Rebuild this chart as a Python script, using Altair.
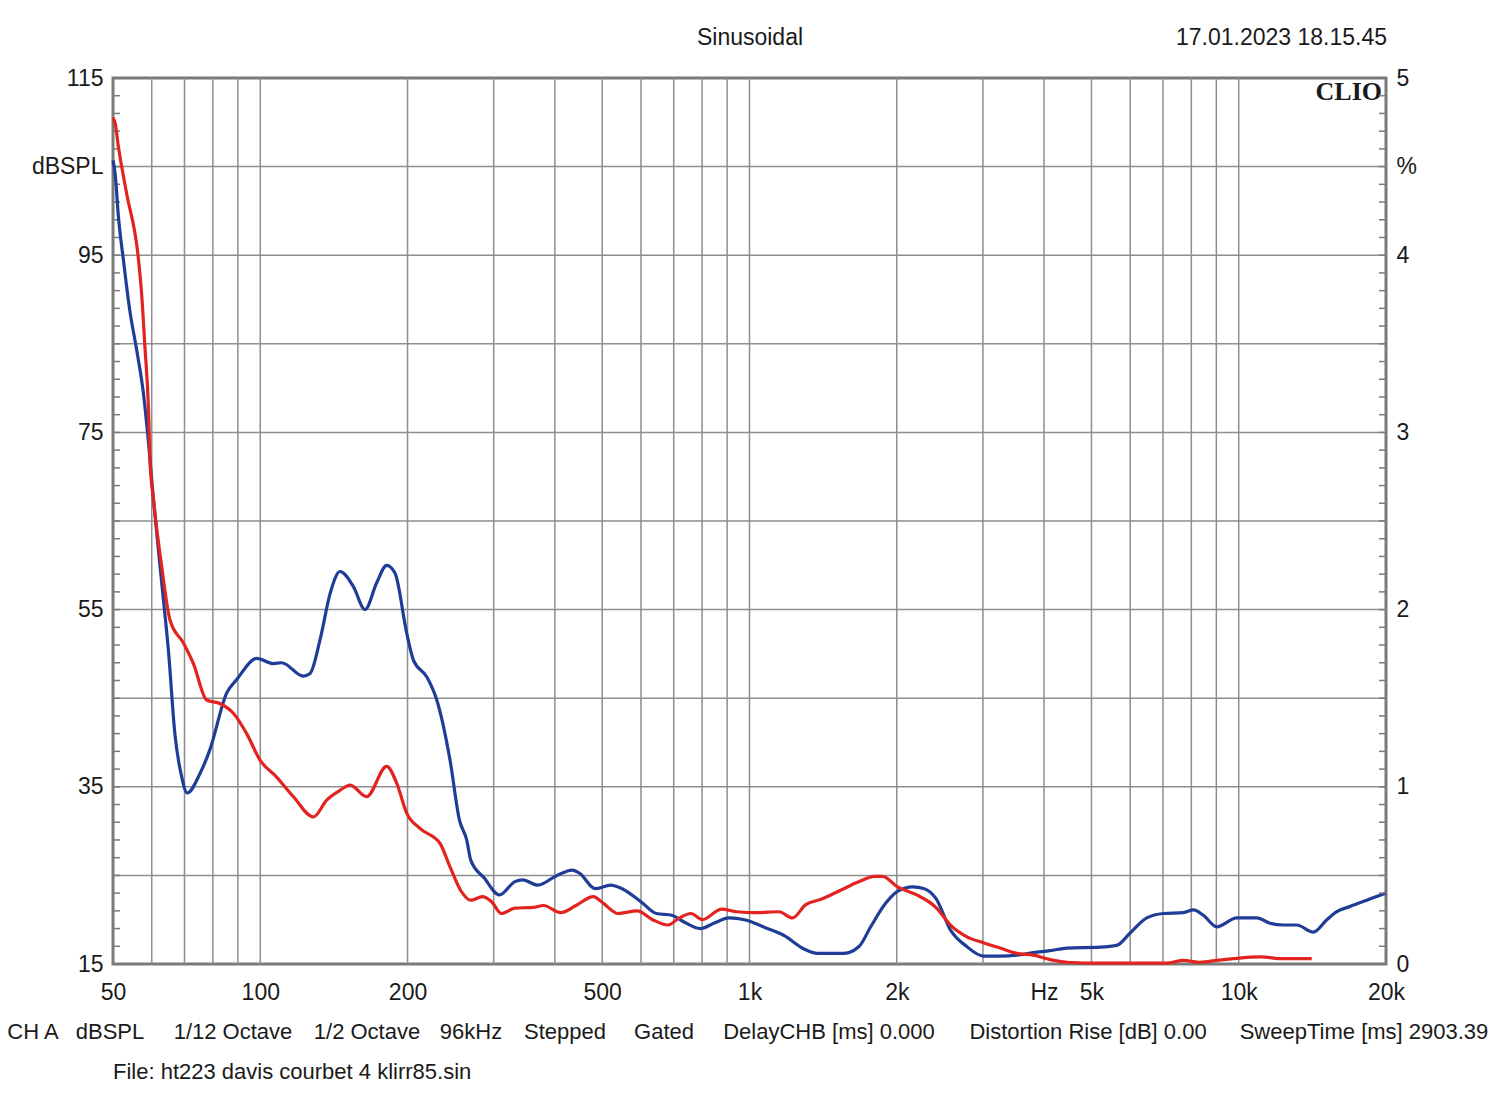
import altair as alt
import pandas as pd

# ---- data ----
blue_freq = [50, 50.5, 51.3, 52.5, 54.1, 55.9, 57.7, 59.1, 60.5, 63.4, 64.9, 66.9, 69.1, 70.9, 75.3, 78.9,
             85.4, 89.5, 98.4, 106.3, 110.6, 122.4, 126.4, 132.5, 138.9, 145.5, 155, 163.7, 172.9, 181.3,
             188.6, 199.3, 205.6, 219, 229.5, 244.3, 255.2, 264.2, 269.4, 287, 308.3, 331.4, 343.6, 369.3,
             404, 434.3, 450.3, 483.7, 520, 549, 600.6, 645.5, 693.6, 732.1, 793.8, 845.4, 908.7, 976.8,
             1088, 1169, 1303, 1375, 1560, 1676, 1769, 1901, 2007, 2157, 2277, 2404, 2584, 2776, 3005,
             3252, 3519, 3804, 4115, 4451, 5207, 5632, 5998, 6487, 7015, 7706, 8077, 8465, 9017, 9910,
             10890, 11590, 12340, 13140, 14210, 15140, 15860, 16890, 18270, 19760, 20000]
blue_db = [105.7, 104.2, 99.3, 94.5, 88.8, 84.3, 79.4, 73.8, 67.4, 56.1, 50.4, 41.0, 36.1, 34.3, 36.5, 39.2,
           45.6, 47.1, 49.5, 48.9, 49.0, 47.5, 47.8, 51.6, 56.8, 59.3, 57.6, 55.0, 58.0, 60.0,
           59.1, 52.3, 49.3, 47.4, 44.8, 38.0, 31.3, 29.0, 26.7, 24.7, 22.8, 24.3, 24.5, 23.9,
           25.0, 25.6, 25.2, 23.5, 23.9, 23.5, 22.0, 20.7, 20.5, 19.8, 19.0, 19.6, 20.2, 20.0,
           19.0, 18.3, 16.6, 16.2, 16.2, 17.0, 19.2, 21.9, 23.2, 23.7, 23.5, 22.4, 18.7, 17.0, 15.9,
           15.9, 16.0, 16.3, 16.5, 16.8, 16.9, 17.1, 18.5, 20.2, 20.7, 20.8, 21.1, 20.5, 19.2, 20.2,
           20.2, 19.6, 19.4, 19.4, 18.6, 20.0, 20.9, 21.5, 22.2, 22.9, 23.0]

red_freq = [50, 50.5, 51.3, 53.3, 56.3, 57.2, 58.1, 59.1, 59.5, 60.5, 62.9, 65.4, 69.7, 73, 77.7, 82.7,
            88.1, 93.8, 99.9, 108, 116.8, 128.4, 136.7, 145.5, 152.6, 165, 181.3, 190.1, 199.3, 212,
            233.1, 244.1, 257.5, 269.4, 284.4, 297.4, 311, 331.4, 362.5, 379.3, 411.4, 441.9, 479.3,
            501.4, 538.8, 589.9, 633.8, 681.2, 718.8, 758.9, 800.9, 876.8, 942.3, 1031, 1149, 1224,
            1303, 1401, 1532, 1676, 1803, 1869, 2007, 2197, 2404, 2584, 2776, 3005, 3252, 3519, 3804,
            4115, 4451, 5207, 7128, 7706, 8335, 9017, 9750, 11060, 12340, 14100]
red_db = [110.5, 109.9, 107.2, 102.0, 94.8, 90.7, 84.7, 77.5, 71.9, 67.4, 59.8, 53.8, 51.2, 48.9, 44.8, 44.4,
          43.3, 41.0, 38.0, 36.1, 33.9, 31.6, 33.5, 34.6, 35.2, 33.9, 37.3, 35.4, 32.0, 30.3,
          28.6, 26.0, 23.2, 22.2, 22.6, 22.0, 20.7, 21.3, 21.4, 21.6, 20.8, 21.6, 22.6,
          21.9, 20.7, 21.0, 20.0, 19.4, 20.2, 20.7, 20.0, 21.2, 20.9, 20.8, 20.9, 20.2,
          21.7, 22.3, 23.3, 24.3, 24.9, 24.9, 23.7, 22.8, 21.4, 19.3, 18.1, 17.4, 16.8, 16.2, 16.0,
          15.5, 15.2, 15.1, 15.1, 15.4, 15.2, 15.4, 15.6, 15.8, 15.6, 15.6]

grid_freqs = [60, 70, 80, 90, 100, 200, 300, 400, 500, 600, 700, 800, 900, 1000,
              2000, 3000, 4000, 5000, 6000, 7000, 8000, 9000, 10000]
grid_db = [25, 35, 45, 55, 65, 75, 85, 95, 105]
x_label_freqs = [50, 100, 200, 500, 1000, 2000, 4000, 5000, 10000, 20000]
left_label_db = [15, 35, 55, 75, 95, 105, 115]
right_label_pct = [0, 1, 2, 3, 4, 4.5, 5]
minor_db = [15 + 2 * i for i in range(51)]
minor_pct = [round(0.1 * i, 1) for i in range(51)]

bottom_info = ["CH A", "dBSPL", "1/12 Octave", "1/2 Octave", "96kHz", "Stepped", "Gated",
               "DelayCHB [ms] 0.000", "Distortion Rise [dB] 0.00", "SweepTime [ms] 2903.39"]

# ---- layout / style ----
W, H = 1273, 886
FONT = "Liberation Sans"
TXT = "#1a1a1a"
GRID = "#8e8e8e"
BLUE = "#1f3d97"
RED = "#e2231f"

xs = alt.Scale(type="log", domain=[50, 20000], nice=False)
ys = alt.Scale(domain=[15, 115], nice=False, zero=False)

X_AX = alt.Axis(
    values=x_label_freqs,
    labelExpr="datum.value >= 1000 ? (datum.value == 4000 ? 'Hz' : datum.value / 1000 + 'k') : datum.value",
    grid=False, ticks=False, domain=False, labelPadding=17, labelFlush=False,
    labelOverlap=False, title=None)
Y_AX = alt.Axis(
    values=left_label_db, labelExpr="datum.value == 105 ? 'dBSPL' : datum.value",
    grid=False, ticks=False, domain=False, labelPadding=10, labelFlush=False,
    labelOverlap=False, labelBaseline="middle", title=None)

curves = pd.concat([
    pd.DataFrame({"f": blue_freq, "db": blue_db, "s": "blue"}),
    pd.DataFrame({"f": red_freq, "db": red_db, "s": "red"}),
])

vgrid = alt.Chart(pd.DataFrame({"f": grid_freqs})).mark_rule(color=GRID, strokeWidth=1.5).encode(
    x=alt.X("f:Q", scale=xs, axis=X_AX))

hgrid = alt.Chart(pd.DataFrame({"db": grid_db})).mark_rule(color=GRID, strokeWidth=1.5).encode(
    y=alt.Y("db:Q", scale=ys, axis=Y_AX))

minor_left = alt.Chart(pd.DataFrame({"db": minor_db})).mark_rule(color="#7a7a7a", strokeWidth=1.5).encode(
    y=alt.Y("db:Q", scale=ys, axis=Y_AX), x=alt.value(0), x2=alt.value(7))


def curve(name, color):
    return alt.Chart(curves).transform_filter(alt.datum.s == name).mark_line(
        color=color, strokeWidth=3.2, interpolate="monotone").encode(
        x=alt.X("f:Q", scale=xs, axis=X_AX),
        y=alt.Y("db:Q", scale=ys, axis=Y_AX))


blue = curve("blue", BLUE)
red = curve("red", RED)


def label(text, x, y, size=23, align="center", font=FONT, weight="normal"):
    return alt.Chart(pd.DataFrame({"t": [text]})).mark_text(
        font=font, fontSize=size, align=align, baseline="middle", color=TXT, fontWeight=weight).encode(
        text="t:N", x=alt.value(x), y=alt.value(y))


texts = [
    label("Sinusoidal", 750 - 113, -40),
    label("17.01.2023 18.15.45", 1387 - 113, -40, align="right"),
    label("CLIO", 1382 - 113, 14, size=26, align="right", font="Liberation Serif", weight="bold"),
    label("File: ht223 davis courbet 4 klirr85.sin", 0, 994, size=22, align="left"),
]
bottom_centers = [-80, 110 - 113, 233 - 113, 367 - 113, 471 - 113, 565 - 113, 664 - 113,
                  829 - 113, 1088 - 113, 1364 - 113]
for t, cx in zip(bottom_info, bottom_centers):
    texts.append(label(t, cx, 954, size=22))

left = alt.layer(vgrid, hgrid, minor_left, blue, red, *texts)

right = alt.Chart(pd.DataFrame({"p": minor_pct})).mark_rule(color="#7a7a7a", strokeWidth=1.5).encode(
    y=alt.Y("p:Q", scale=alt.Scale(domain=[0, 5], nice=False, zero=False), axis=alt.Axis(
        orient="right", values=right_label_pct,
        labelExpr="datum.value == 4.5 ? '%' : datum.value",
        grid=False, ticks=False, domain=False, labelPadding=10, labelFlush=False,
        labelOverlap=False, labelBaseline="middle", title=None)),
    x=alt.value(W - 7), x2=alt.value(W))

chart = alt.layer(left, right).resolve_scale(y="independent").properties(
    width=W, height=H,
    autosize=alt.AutoSizeParams(type="none"),
    padding={"left": 105, "top": 70, "right": 104, "bottom": 124},
    background="white",
).configure_view(stroke="#7a7a7a", strokeWidth=3).configure_axis(
    labelFont=FONT, labelFontSize=23, labelColor=TXT)

chart.save("out.html", embed_options={"renderer": "svg", "actions": False})
